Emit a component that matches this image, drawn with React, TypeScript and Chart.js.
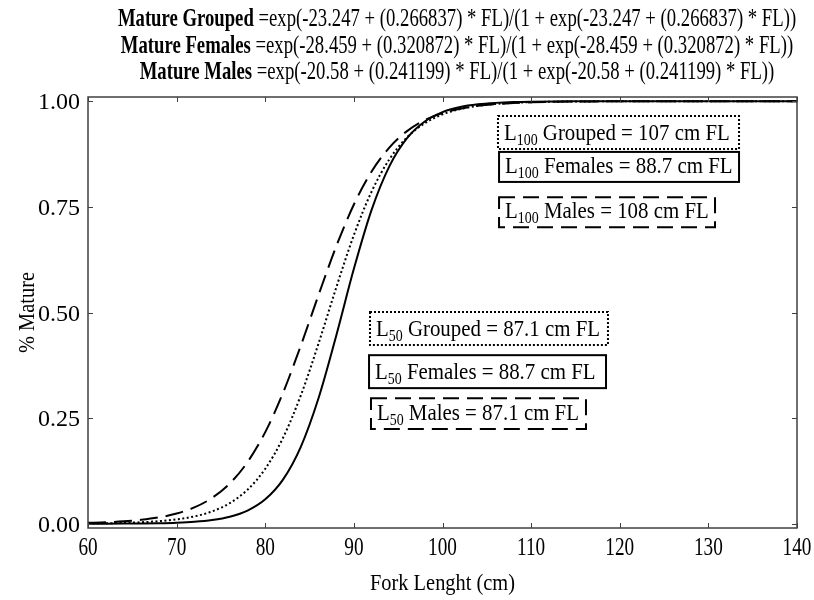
import { useEffect, useRef } from "react";
import { Chart, registerables } from "chart.js";

Chart.register(...registerables);

// Fork length (cm) sample positions
const forkLength = [60, 62, 64, 66, 68, 70, 72, 74, 76, 78, 80, 82, 84, 86, 88, 90, 92, 94, 96, 98, 100, 102, 104, 106, 108, 110, 115, 120, 130, 140];

// Proportion mature
const grouped = [0.0007, 0.0012, 0.0021, 0.0036, 0.0061, 0.0103, 0.0174, 0.0293, 0.0489, 0.0806, 0.1301, 0.2032, 0.3031, 0.4258, 0.5584, 0.6832, 0.7862, 0.8624, 0.9145, 0.948, 0.9688, 0.9815, 0.9891, 0.9936, 0.9962, 0.9978, 0.9994, 0.9998, 1.0, 1.0];
const females = [0.0001, 0.0002, 0.0004, 0.0007, 0.0013, 0.0025, 0.0047, 0.0089, 0.0167, 0.0313, 0.0579, 0.1046, 0.1816, 0.2965, 0.4446, 0.6033, 0.7429, 0.8459, 0.9125, 0.952, 0.9741, 0.9862, 0.9927, 0.9961, 0.998, 0.9989, 0.9998, 1.0, 1.0, 1.0];
const males = [0.0022, 0.0036, 0.0058, 0.0094, 0.0151, 0.0242, 0.0387, 0.0612, 0.0954, 0.146, 0.2169, 0.3097, 0.4208, 0.5407, 0.656, 0.7555, 0.8335, 0.8902, 0.9292, 0.9551, 0.9718, 0.9824, 0.9891, 0.9932, 0.9958, 0.9974, 0.9992, 0.9998, 1.0, 1.0];

const xTicks = [60, 70, 80, 90, 100, 110, 120, 130, 140];
const yTicks = [0, 0.25, 0.5, 0.75, 1.0];
const yTickLabels = ["0.00", "0.25", "0.50", "0.75", "1.00"];

const titleLines = [
  ["Mature Grouped", " =exp(-23.247 + (0.266837) * FL)/(1 + exp(-23.247 + (0.266837) * FL))"],
  ["Mature Females", " =exp(-28.459 + (0.320872) * FL)/(1 + exp(-28.459 + (0.320872) * FL))"],
  ["Mature Males", " =exp(-20.58 + (0.241199) * FL)/(1 + exp(-20.58 + (0.241199) * FL))"],
];

const xTitle = "Fork Lenght (cm)";
const yTitle = "% Mature";

// Annotation boxes (data coordinates)
const annotations = [
  { sub: "100", text: " Grouped = 107 cm FL", style: "dotted", x0: 106.26, x1: 133.46, y0: 0.965, y1: 0.887 },
  { sub: "100", text: " Females = 88.7 cm FL", style: "solid", x0: 106.38, x1: 133.46, y0: 0.88, y1: 0.809 },
  { sub: "100", text: " Males = 108 cm FL", style: "dashed", x0: 106.38, x1: 130.75, y0: 0.773, y1: 0.702 },
  { sub: "50", text: " Grouped = 87.1 cm FL", style: "dotted", x0: 91.82, x1: 118.67, y0: 0.501, y1: 0.423 },
  { sub: "50", text: " Females = 88.7 cm FL", style: "solid", x0: 91.71, x1: 118.45, y0: 0.399, y1: 0.321 },
  { sub: "50", text: " Males = 87.1 cm FL", style: "dashed", x0: 91.93, x1: 116.19, y0: 0.297, y1: 0.224 },
];

const SERIF = "'Liberation Serif', 'DejaVu Serif', serif";

function drawSquished(ctx: CanvasRenderingContext2D, text: string, x: number, y: number, font: string, sx: number, align: "left" | "center" | "right") {
  ctx.save();
  ctx.font = font;
  const w = ctx.measureText(text).width * sx;
  const left = align === "center" ? x - w / 2 : align === "right" ? x - w : x;
  ctx.translate(left, y);
  ctx.scale(sx, 1);
  ctx.textAlign = "left";
  ctx.textBaseline = "alphabetic";
  ctx.fillText(text, 0, 0);
  ctx.restore();
  return w;
}

const decorPlugin = {
  id: "decor",
  afterDraw(chart: any) {
    const ctx: CanvasRenderingContext2D = chart.ctx;
    const { left, right, top, bottom } = chart.chartArea;
    const xs = chart.scales.x;
    const ys = chart.scales.y;
    ctx.save();
    ctx.fillStyle = "#000";

    // Frame
    ctx.strokeStyle = "#404040";
    ctx.lineWidth = 1.5;
    ctx.setLineDash([]);
    ctx.strokeRect(left, top, right - left, bottom - top);

    // Inward ticks
    const tl = 5;
    ctx.beginPath();
    xTicks.forEach((v) => {
      const px = Math.round(xs.getPixelForValue(v)) + 0.5;
      ctx.moveTo(px, bottom);
      ctx.lineTo(px, bottom - tl);
      ctx.moveTo(px, top);
      ctx.lineTo(px, top + tl);
    });
    yTicks.forEach((v) => {
      const py = Math.round(ys.getPixelForValue(v)) + 0.5;
      ctx.moveTo(left, py);
      ctx.lineTo(left + tl, py);
      ctx.moveTo(right, py);
      ctx.lineTo(right - tl, py);
    });
    ctx.lineWidth = 1;
    ctx.stroke();

    // Tick labels
    xTicks.forEach((v) => {
      drawSquished(ctx, String(v), xs.getPixelForValue(v), bottom + 27, `25px ${SERIF}`, 0.77, "center");
    });
    yTicks.forEach((v, i) => {
      drawSquished(ctx, yTickLabels[i], left - 8, ys.getPixelForValue(v) + 8, `24px ${SERIF}`, 1.0, "right");
    });

    // Axis titles
    drawSquished(ctx, xTitle, (left + right) / 2, bottom + 62, `24px ${SERIF}`, 0.85, "center");
    ctx.save();
    ctx.translate(34, (top + bottom) / 2);
    ctx.rotate(-Math.PI / 2);
    drawSquished(ctx, yTitle, 0, 0, `24px ${SERIF}`, 0.85, "center");
    ctx.restore();

    // Title lines
    const sxT = 0.748;
    titleLines.forEach((ln, i) => {
      const y = 26 + 26.5 * i;
      ctx.font = `bold 25px ${SERIF}`;
      const wb = ctx.measureText(ln[0]).width * sxT;
      ctx.font = `25px ${SERIF}`;
      const wn = ctx.measureText(ln[1]).width * sxT;
      const start = 457 - (wb + wn) / 2;
      drawSquished(ctx, ln[0], start, y, `bold 25px ${SERIF}`, sxT, "left");
      drawSquished(ctx, ln[1], start + wb, y, `25px ${SERIF}`, sxT, "left");
    });

    // Annotation boxes
    annotations.forEach((a) => {
      const x0 = xs.getPixelForValue(a.x0);
      const x1 = xs.getPixelForValue(a.x1);
      const y0 = ys.getPixelForValue(a.y0);
      const y1 = ys.getPixelForValue(a.y1);
      ctx.save();
      ctx.strokeStyle = "#000";
      ctx.lineWidth = 2;
      if (a.style === "dotted") ctx.setLineDash([2, 2]);
      else if (a.style === "dashed") ctx.setLineDash([16, 8]);
      else ctx.setLineDash([]);
      ctx.strokeRect(x0, y0, x1 - x0, y1 - y0);
      ctx.restore();
      const sx = 0.87;
      const base = y1 - 9;
      let cx = x0 + 6;
      cx += drawSquished(ctx, "L", cx, base, `24px ${SERIF}`, sx, "left");
      cx += drawSquished(ctx, a.sub, cx, base + 5, `16px ${SERIF}`, sx, "left");
      drawSquished(ctx, a.text, cx, base, `24px ${SERIF}`, sx, "left");
    });

    ctx.restore();
  },
};

export default function App() {
  const ref = useRef<HTMLCanvasElement | null>(null);
  useEffect(() => {
    if (!ref.current) return;
    const mk = (ys: number[]) => forkLength.map((x, i) => ({ x, y: ys[i] }));
    const chart = new Chart(ref.current, {
      type: "line",
      data: {
        datasets: [
          { label: "Females", data: mk(females), borderColor: "#000", borderWidth: 2, borderDash: [], pointRadius: 0, fill: false, cubicInterpolationMode: "monotone" },
          { label: "Grouped", data: mk(grouped), borderColor: "#000", borderWidth: 2, borderDash: [2, 2.5], pointRadius: 0, fill: false, cubicInterpolationMode: "monotone" },
          { label: "Males", data: mk(males), borderColor: "#000", borderWidth: 2, borderDash: [18, 8], pointRadius: 0, fill: false, cubicInterpolationMode: "monotone" },
        ],
      },
      options: {
        responsive: false,
        animation: false,
        layout: { padding: { left: 88, right: 17, top: 97, bottom: 72 } },
        scales: {
          x: { type: "linear", min: 60, max: 140, display: false },
          y: { type: "linear", min: -0.01, max: 1.01, display: false },
        },
        plugins: { legend: { display: false }, tooltip: { enabled: false } },
      },
      plugins: [decorPlugin],
    } as any);
    return () => chart.destroy();
  }, []);
  return (
    <div style={{ position: "fixed", left: 0, top: 0, width: 814, height: 600, background: "#fff" }}>
      <canvas ref={ref} width={814} height={600} style={{ display: "block" }} />
    </div>
  );
}
